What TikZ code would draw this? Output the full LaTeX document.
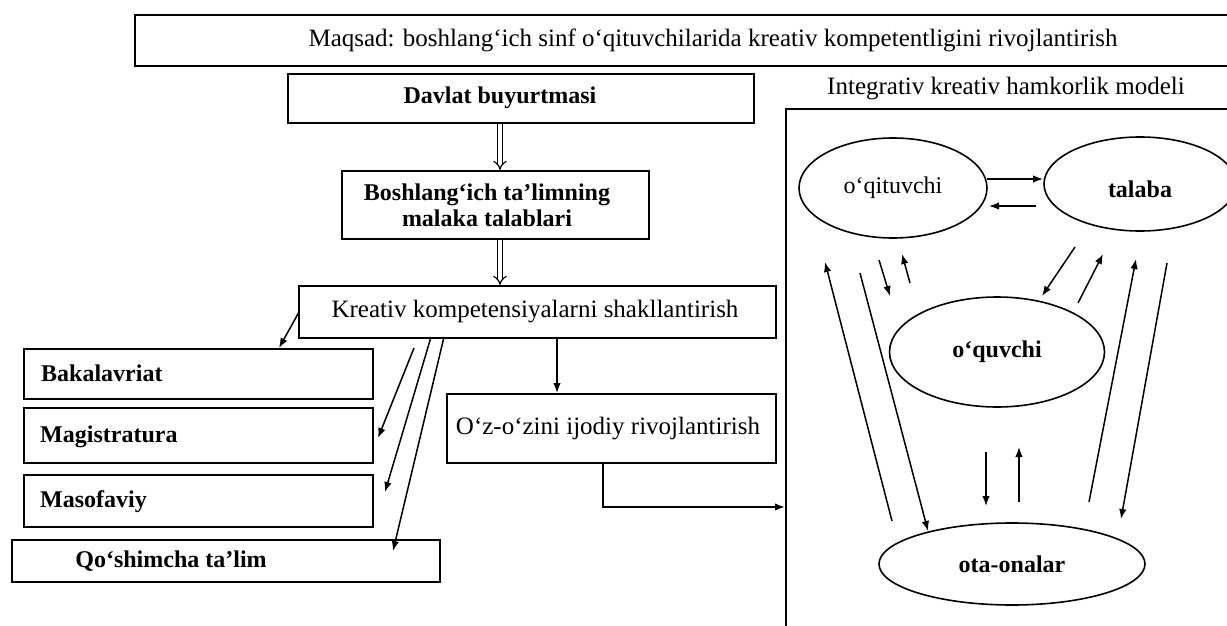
\documentclass[tikz,border=0pt]{standalone}
\usepackage{fontspec}
\setmainfont{Liberation Serif}
\usetikzlibrary{arrows.meta,shapes.geometric}
\begin{document}
\begin{tikzpicture}[x=1pt,y=-1pt,
  boxa/.style={draw,line width=1.9pt,rectangle,inner sep=0pt},
  txtr/.style={inner sep=0pt,font=\fontsize{25}{28}\selectfont},
  txtb/.style={inner sep=0pt,font=\fontsize{24}{26}\selectfont\bfseries},
  ell/.style={draw,line width=1.6pt,ellipse,inner sep=0pt},
  arr/.style={line width=1.5pt,-{Latex[length=10pt,width=7.5pt]}},
  dbl/.style={double,double distance=3.5pt,line width=1.2pt,-{Implies[length=6pt]}}]
\clip (0,0) rectangle (1227,626);
\fill[white] (0,0) rectangle (1227,626);
% top goal box
\node[boxa,minimum width=1110pt,minimum height=51pt,anchor=north west] (top) at (134,14) {};
\node[txtr] (toptext) at (713,40) {Maqsad: boshlang‘ich sinf o‘qituvchilarida kreativ kompetentligini rivojlantirish};
% Davlat
\node[boxa,minimum width=466pt,minimum height=49pt,anchor=north west] (davlat) at (287,73) {};
\node[txtb] (davlattext) at (500,98) {Davlat buyurtmasi};
% Boshlang'ich
\node[boxa,minimum width=307pt,minimum height=68pt,anchor=north west] (malaka) at (341,170) {};
\node[txtb,align=center] (malakatext) at (487,205) {Boshlang‘ich ta’limning\\malaka talablari};
% Kreativ
\node[boxa,minimum width=477pt,minimum height=52pt,anchor=north west] (kreativ) at (298,285) {};
\node[txtr] (kreativtext) at (535,312) {Kreativ kompetensiyalarni shakllantirish};
% O'z-o'zini
\node[boxa,minimum width=329pt,minimum height=69pt,anchor=north west] (oz) at (446,393) {};
\node[txtr] (oztext) at (608,429) {O‘z-o‘zini ijodiy rivojlantirish};
% left boxes
\node[boxa,minimum width=349pt,minimum height=50pt,anchor=north west] (bak) at (23,348) {};
\node[txtb,anchor=west] (baktext) at (41,373) {Bakalavriat};
\node[boxa,minimum width=349pt,minimum height=55pt,anchor=north west] (mag) at (23,407) {};
\node[txtb,anchor=west] (magtext) at (40,437) {Magistratura};
\node[boxa,minimum width=349pt,minimum height=52pt,anchor=north west] (mas) at (23,474) {};
\node[txtb,anchor=west] (mastext) at (40,502) {Masofaviy};
\node[boxa,minimum width=428pt,minimum height=42pt,anchor=north west] (qos) at (11,539) {};
\node[txtb] (qostext) at (171,561) {Qo‘shimcha ta’lim};
% model box
\node[txtr] (modeltitle) at (1006,89) {Integrativ kreativ hamkorlik modeli};
\node[boxa,minimum width=470pt,minimum height=540pt,anchor=north west] (model) at (785,108) {};
% ellipses
\node[ell,minimum width=188pt,minimum height=100pt,font=\fontsize{24}{26}\selectfont] (oqit) at (893,188) {o‘qituvchi};
\node[ell,minimum width=192pt,minimum height=94pt] (talaba) at (1140,184) {};
\node[txtb] (talabatext) at (1140,189) {talaba};
\node[ell,minimum width=215pt,minimum height=110pt,font=\fontsize{24}{26}\selectfont\bfseries] (oquv) at (997,352) {o‘quvchi};
\node[ell,minimum width=266pt,minimum height=82pt,font=\fontsize{24}{26}\selectfont\bfseries] (ota) at (1012,564) {ota-onalar};
% double arrows
\draw[dbl] (davlat.south -| 500,0) -- (malaka.north -| 500,0);
\draw[dbl] (malaka.south -| 500,0) -- (kreativ.north -| 500,0);
% left arrows
\coordinate (k1) at (299,312);
\coordinate (b1) at (279,348);
\draw[arr] (k1) -- (b1);
\coordinate (k2) at (414,348);
\coordinate (m2) at (378,438);
\draw[arr] (k2) -- (m2);
\coordinate (k3) at (431,337);
\coordinate (m3) at (385,492);
\draw[arr] (k3) -- (m3);
\coordinate (k4) at (444,337);
\coordinate (q4) at (393,551);
\draw[arr] (k4) -- (q4);
\draw[arr] (kreativ.south -| 557,0) -- (oz.north -| 557,0);
\coordinate (ozb) at (603,462);
\coordinate (turn) at (603,507);
\draw[line width=1.9pt,-{Latex[length=10pt,width=7.5pt]}] (ozb) -- (turn) -- (turn -| model.west);
% model arrows
\coordinate (a1s) at (987,179); \coordinate (a1e) at (1043,179);
\draw[arr] (a1s) -- (a1e);
\coordinate (a2s) at (1036,206); \coordinate (a2e) at (989,206);
\draw[arr] (a2s) -- (a2e);
\coordinate (a3s) at (879,260); \coordinate (a3e) at (890,296);
\draw[arr] (a3s) -- (a3e);
\coordinate (a4s) at (910,283); \coordinate (a4e) at (902,254);
\draw[arr] (a4s) -- (a4e);
\coordinate (a5s) at (1075,247); \coordinate (a5e) at (1042,296);
\draw[arr] (a5s) -- (a5e);
\coordinate (a6s) at (1078,303); \coordinate (a6e) at (1103,254);
\draw[arr] (a6s) -- (a6e);
\coordinate (a7s) at (892,521); \coordinate (a7e) at (825,262);
\draw[arr] (a7s) -- (a7e);
\coordinate (a8s) at (860,273); \coordinate (a8e) at (928,531);
\draw[arr] (a8s) -- (a8e);
\coordinate (a9s) at (1089,502); \coordinate (a9e) at (1136,259);
\draw[arr] (a9s) -- (a9e);
\coordinate (a10s) at (1167,263); \coordinate (a10e) at (1121,519);
\draw[arr] (a10s) -- (a10e);
\coordinate (a11s) at (986,452); \coordinate (a11e) at (986,506);
\draw[arr] (a11s) -- (a11e);
\coordinate (a12s) at (1019,502); \coordinate (a12e) at (1019,447);
\draw[arr] (a12s) -- (a12e);
\end{tikzpicture}
\end{document}
